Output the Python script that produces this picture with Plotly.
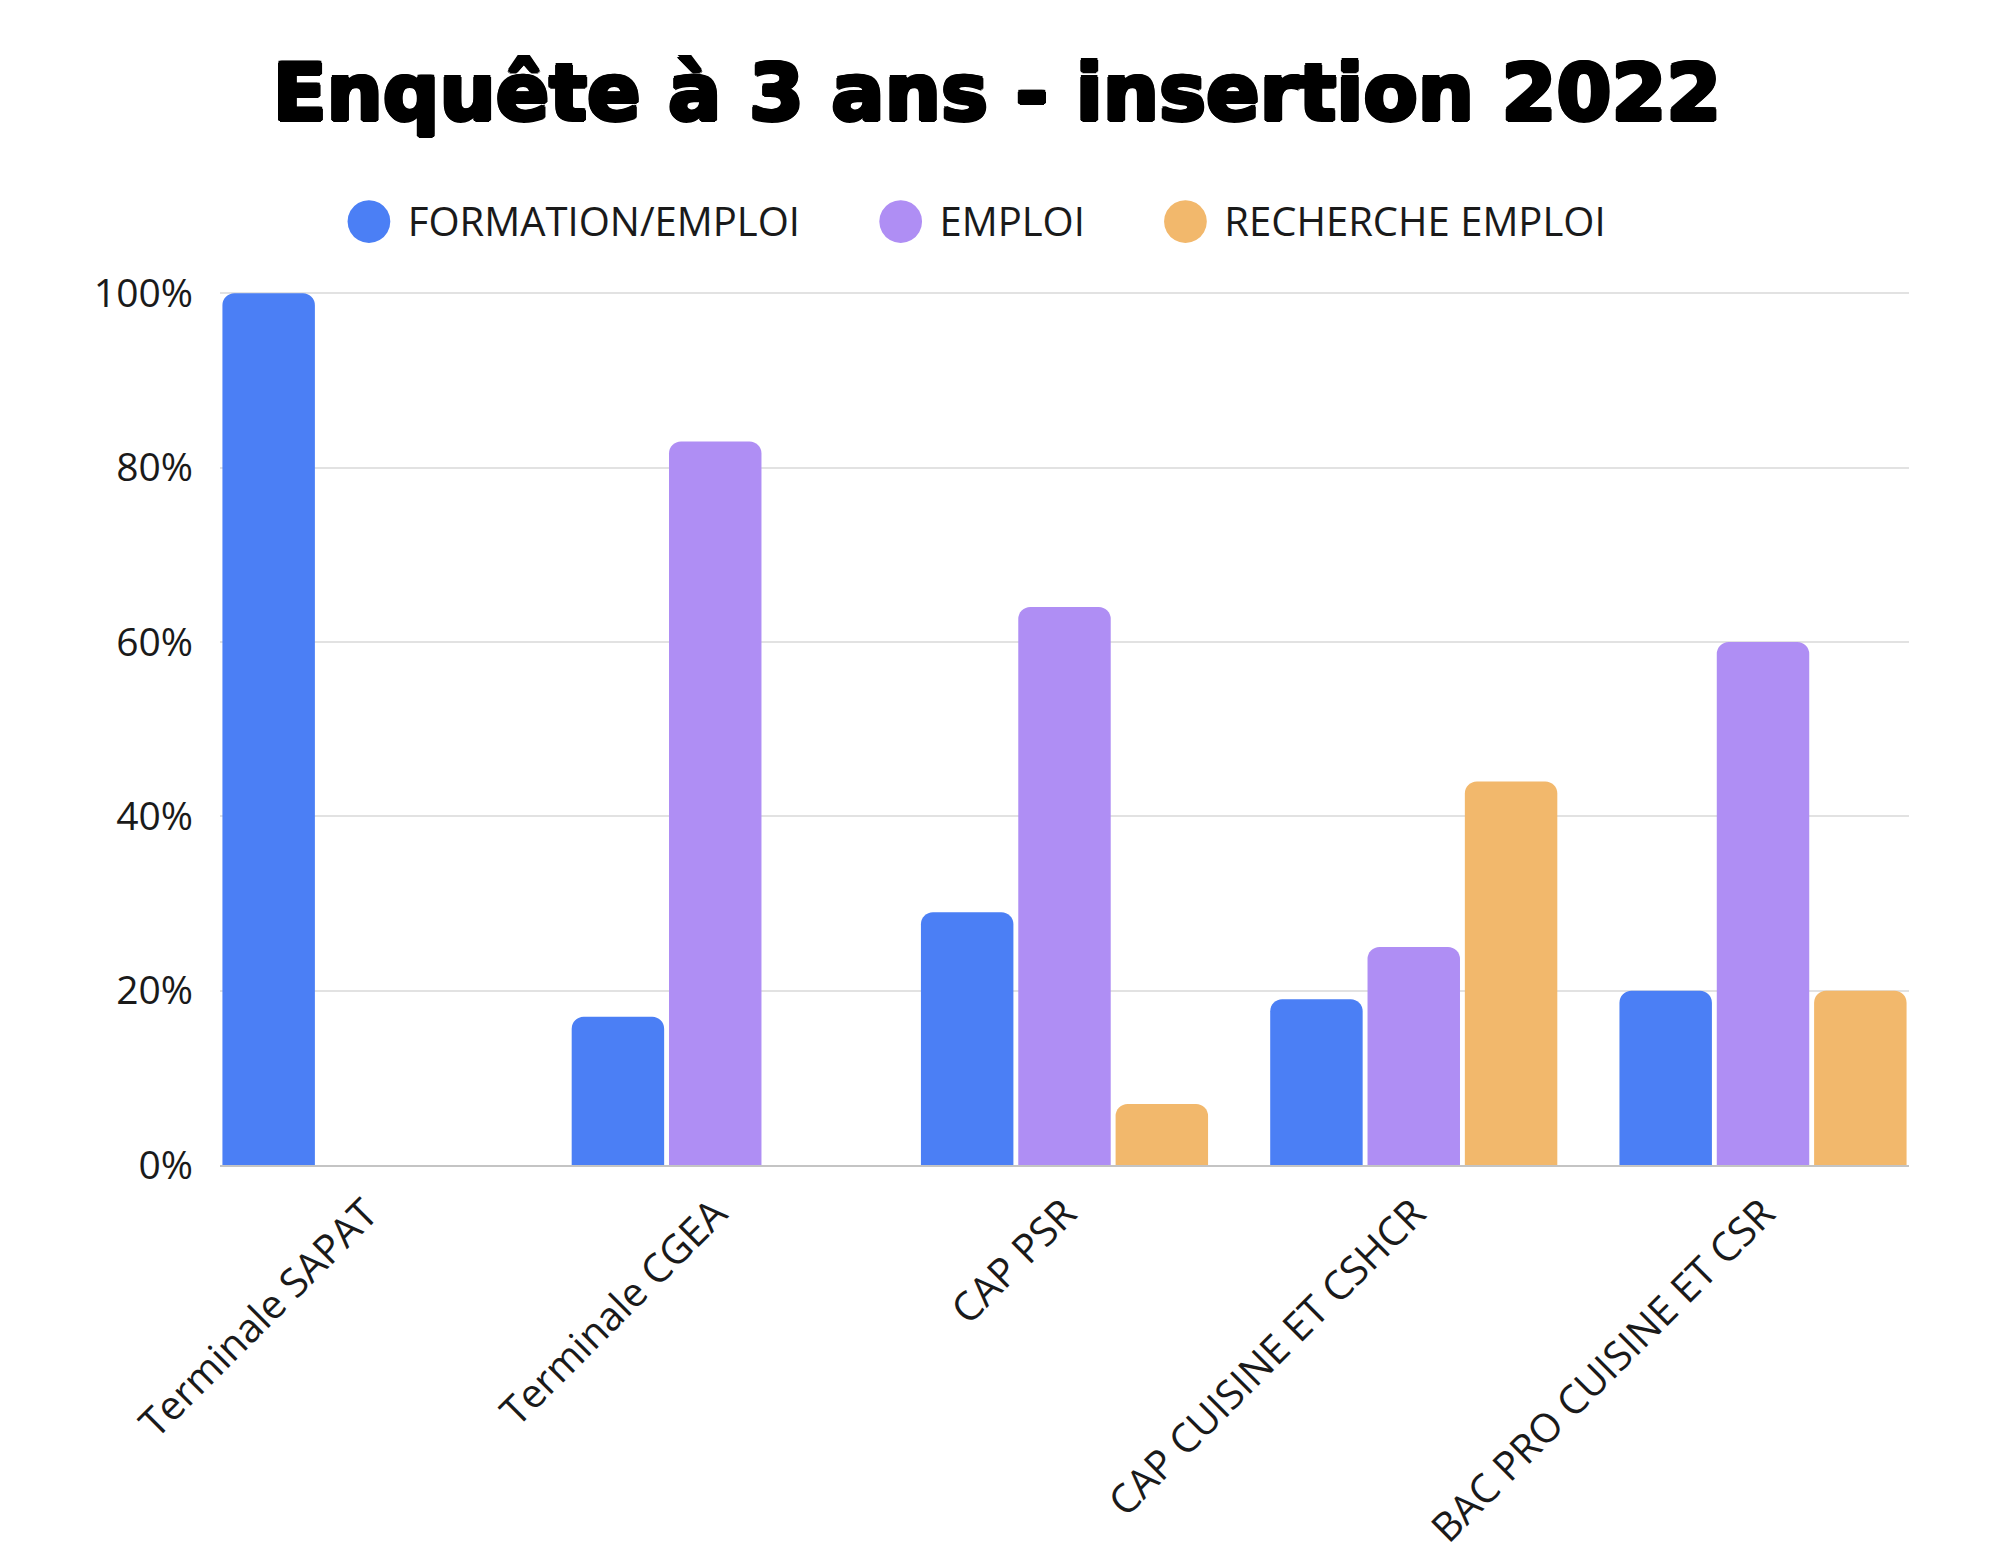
import plotly.graph_objects as go

categories = ["Terminale SAPAT", "Terminale CGEA", "CAP PSR",
              "CAP CUISINE ET CSHCR", "BAC PRO CUISINE ET CSR"]
formation_emploi = [100, 17, 29, 19, 20]
emploi = [0, 83, 64, 25, 60]
recherche_emploi = [0, 0, 7, 44, 20]
series_names = ["FORMATION/EMPLOI", "EMPLOI", "RECHERCHE EMPLOI"]
colors = ["#4B7FF5", "#AF8EF4", "#F2B86C"]
y_ticks = [0, 20, 40, 60, 80, 100]
y_tick_text = [f"{v}%" for v in y_ticks]

fig = go.Figure()
for name, vals, col in zip(series_names, [formation_emploi, emploi, recherche_emploi], colors):
    fig.add_trace(go.Bar(x=categories, y=vals, name=name,
                         marker=dict(color=col, line=dict(width=0)),
                         showlegend=False))

# legend entries with large round bullets
n_series = len(series_names)
for i, (name, col) in enumerate(zip(series_names, colors)):
    trail = "\u00a0\u00a0\u00a0" if i < n_series - 1 else ""
    fig.add_trace(go.Scatter(
        x=[None], y=[None], mode="markers",
        marker=dict(color="rgba(0,0,0,0)", size=2),
        name=(f'<span style="color:{col};font-size:56px;font-family:DejaVu Sans">●</span>'
              f'\u00a0\u200a{name}{trail}'),
        showlegend=True,
    ))

s = 2.0
shadow = (f"{s}px 0 0 #000, -{s}px 0 0 #000, 0 {s}px 0 #000, 0 -{s}px 0 #000, "
          f"{s*0.7:.1f}px {s*0.7:.1f}px 0 #000, -{s*0.7:.1f}px {s*0.7:.1f}px 0 #000, "
          f"{s*0.7:.1f}px -{s*0.7:.1f}px 0 #000, -{s*0.7:.1f}px -{s*0.7:.1f}px 0 #000")

fig.update_layout(
    width=2000, height=1562,
    template="none",
    paper_bgcolor="white", plot_bgcolor="white",
    margin=dict(l=212, r=99, t=283, b=405),
    barmode="group", bargap=0.164, bargroupgap=0.05, barcornerradius=12,
    font=dict(family="Open Sans", size=39, color="#1a1a1a"),
    title=dict(text="Enquête à 3 ans - insertion 2022",
               font=dict(family="DejaVu Sans", size=79, color="black", weight="bold",
                         shadow=shadow),
               x=0.4945, xref="container", xanchor="center",
               y=1 - 84 / 1562, yref="container", yanchor="middle"),
    legend=dict(orientation="h", xref="container", yref="container",
                x=0.475, xanchor="center", y=1 - 212 / 1562, yanchor="middle",
                itemwidth=30, font=dict(family="Open Sans", size=40, color="#1a1a1a"),
                bgcolor="rgba(0,0,0,0)"),
    xaxis=dict(type="category", range=[-0.418, 4.418], tickangle=-45,
               showgrid=False, showline=True, linecolor="#C4C4C4", linewidth=2,
               ticks="", ticklabelstandoff=7, automargin=False, tickfont=dict(size=40)),
    yaxis=dict(range=[0, 100.25], tickvals=y_ticks, ticktext=y_tick_text,
               showgrid=True, gridcolor="#E2E2E2", gridwidth=2, zeroline=False,
               showline=False, ticks="", ticklabelstandoff=26, automargin=False,
               tickfont=dict(size=39)),
)

fig.write_html("out.html")
